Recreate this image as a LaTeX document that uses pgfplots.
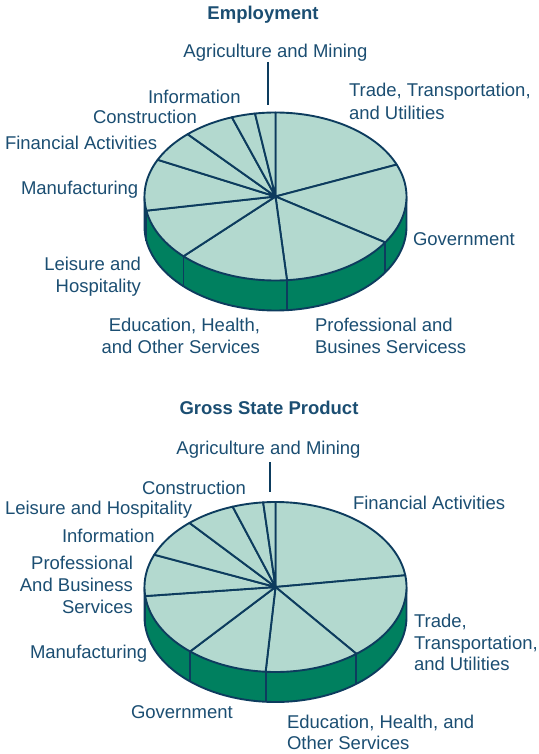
\documentclass[border=0pt]{standalone}
\usepackage{pgfplots}
\pgfplotsset{compat=1.18}
\usepackage{fontspec}
\setmainfont{Liberation Sans}
\definecolor{txt}{HTML}{1B4E72}
\definecolor{edge}{HTML}{0D3C5E}
\definecolor{topc}{HTML}{B3D9CF}
\definecolor{sidec}{HTML}{00805F}
\newcommand\lbl{\fontsize{18.5bp}{22bp}\selectfont}
\tikzset{lab/.style={inner sep=0pt, outer sep=0pt, text=txt, font=\lbl}}
% #1 cx, #2 cy, #3 rx, #4 ry, #5 thickness, #6 shares (percent, clockwise from 12 o'clock)
\newcommand\drawpie[6]{%
  \pgfmathsetmacro\pL{#1-#3}\pgfmathsetmacro\pR{#1+#3}%
  \edef\tmp{\noexpand\addplot[draw=edge, fill=sidec, line width=1.9pt, line join=round, domain=180:360, samples=90]
    ({#1+#3*cos(x)},{#2+#5-#4*sin(x)}) -- (axis cs:\pR,#2) -- (axis cs:\pL,#2) -- cycle;}%
  \tmp
  \gdef\cur{90}%
  \foreach \v in {#6} {%
    \pgfmathsetmacro\nxt{\cur-3.6*\v}%
    \edef\tmp{\noexpand\addplot[draw=edge, fill=topc, line width=1.9pt, line join=round, domain=\nxt:\cur, samples=60]
      ({#1+#3*cos(x)},{#2-#4*sin(x)}) -- (axis cs:#1,#2) -- cycle;}%
    \tmp
    \pgfmathtruncatemacro\front{(\nxt<-0.5)&&(\nxt>-179.5)}%
    \ifnum\front=1
      \pgfmathsetmacro\px{#1+#3*cos(\nxt)}%
      \pgfmathsetmacro\py{#2-#4*sin(\nxt)}%
      \pgfmathsetmacro\pyb{\py+#5}%
      \edef\tmp{\noexpand\addplot[draw=edge, line width=1.9pt] coordinates {(\px,\py) (\px,\pyb)};}%
      \tmp
    \fi
    \xdef\cur{\nxt}%
  }%
}
\begin{document}
\begin{tikzpicture}
\begin{axis}[width=539bp, height=754bp, scale only axis,
  xmin=0, xmax=539, ymin=0, ymax=754, y dir=reverse,
  hide axis, clip=false]
% Employment: Trade/Transp/Util, Government, Prof & Business, Education/Health/Other,
% Leisure & Hospitality, Manufacturing, Financial, Construction, Information, Agriculture & Mining
\drawpie{275.5}{196.5}{131}{84}{30}{18.8,15.4,14.4,13.8,9.9,9.9,6.1,6.3,2.9,2.5}
% Gross State Product: Financial, Trade/Transp/Util, Education/Health/Other, Government,
% Manufacturing, Prof & Business, Information, Leisure & Hospitality, Construction, Agriculture & Mining
\drawpie{275.5}{587}{131}{85}{30}{22.8,16.6,11.8,10.1,12.0,7.9,7.4,6.1,3.8,1.5}
\addplot[draw=edge, line width=1.9pt] coordinates {(268,62) (268,105)};
\addplot[draw=edge, line width=1.9pt] coordinates {(270,462) (270,492)};
% Employment labels
\node[lab, anchor=base, font=\lbl\bfseries] at (axis cs:263,20) {Employment};
\node[lab, anchor=base] at (axis cs:275.5,58) {Agriculture and Mining};
\node[lab, anchor=base west] at (axis cs:349,97) {Trade, Transportation,};
\node[lab, anchor=base west] at (axis cs:349,120) {and Utilities};
\node[lab, anchor=base west] at (axis cs:148,104) {Information};
\node[lab, anchor=base west] at (axis cs:93,124) {Construction};
\node[lab, anchor=base west] at (axis cs:5,150) {Financial Activities};
\node[lab, anchor=base west] at (axis cs:21,195) {Manufacturing};
\node[lab, anchor=base west] at (axis cs:413,245) {Government};
\node[lab, anchor=base east] at (axis cs:141,270) {Leisure and};
\node[lab, anchor=base east] at (axis cs:141,292) {Hospitality};
\node[lab, anchor=base east] at (axis cs:260,331.5) {Education, Health,};
\node[lab, anchor=base east] at (axis cs:260,353) {and Other Services};
\node[lab, anchor=base west] at (axis cs:315,331.5) {Professional and};
\node[lab, anchor=base west] at (axis cs:315,353) {Busines Servicess};
% GSP labels
\node[lab, anchor=base, font=\lbl\bfseries] at (axis cs:269,414) {Gross State Product};
\node[lab, anchor=base] at (axis cs:268.5,454) {Agriculture and Mining};
\node[lab, anchor=base west] at (axis cs:142,494) {Construction};
\node[lab, anchor=base west] at (axis cs:5,514) {Leisure and Hospitality};
\node[lab, anchor=base west] at (axis cs:353,509) {Financial Activities};
\node[lab, anchor=base west] at (axis cs:62,542) {Information};
\node[lab, anchor=base east] at (axis cs:133,569) {Professional};
\node[lab, anchor=base east] at (axis cs:133,591.5) {And Business};
\node[lab, anchor=base east] at (axis cs:133,613) {Services};
\node[lab, anchor=base west] at (axis cs:30,658) {Manufacturing};
\node[lab, anchor=base west] at (axis cs:131,718) {Government};
\node[lab, anchor=base west] at (axis cs:414,627) {Trade,};
\node[lab, anchor=base west] at (axis cs:414,649) {Transportation,};
\node[lab, anchor=base west] at (axis cs:414,670.5) {and Utilities};
\node[lab, anchor=base west] at (axis cs:287,728) {Education, Health, and};
\node[lab, anchor=base west] at (axis cs:287,749) {Other Services};
\end{axis}
\pgfresetboundingbox
\useasboundingbox (current axis.south west) rectangle (current axis.north east);
\end{tikzpicture}
\end{document}
